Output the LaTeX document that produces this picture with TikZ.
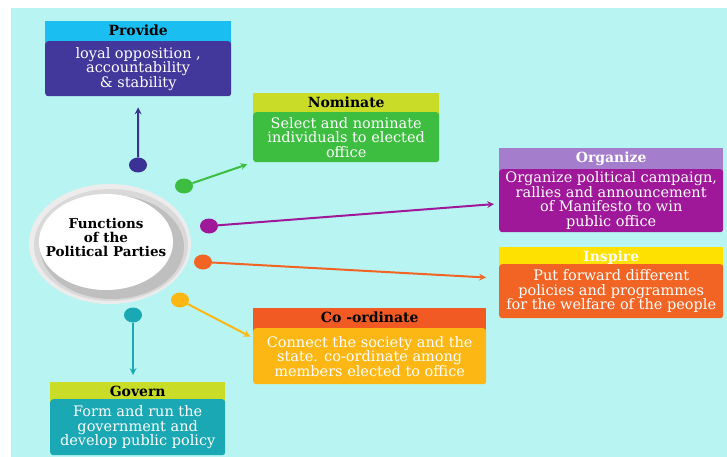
\documentclass[tikz,border=0pt]{standalone}
\usepackage{fontspec}
\setmainfont{DejaVu Serif}
\usetikzlibrary{shapes.geometric}
\tikzset{
  head-box/.style={
    rectangle, anchor=north west, inner sep=0pt,
    text height=14pt, text depth=12pt,
    font=\fontsize{14}{14}\selectfont\bfseries
  },
  body-box/.style={
    rectangle, anchor=north west, inner sep=0pt,
    rounded corners=3pt, text=white, align=center,
    font=\fontsize{14.5}{14.5}\selectfont
  },
  fn-dot/.style={ellipse, minimum width=18pt, minimum height=15pt, inner sep=0pt},
  link/.style={line width=2pt, -stealth},
  hub-text/.style={align=center, inner sep=0pt, font=\fontsize{13.5}{14}\selectfont\bfseries}
}
\definecolor{bgcyan}{RGB}{184,244,242}
\definecolor{provhead}{RGB}{26,190,240}
\definecolor{provbody}{RGB}{66,55,155}
\definecolor{provdot}{RGB}{60,50,150}
\definecolor{limehead}{RGB}{200,220,40}
\definecolor{nombody}{RGB}{61,190,64}
\definecolor{orghead}{RGB}{165,125,205}
\definecolor{orgbody}{RGB}{160,24,154}
\definecolor{insphead}{RGB}{255,225,0}
\definecolor{inspbody}{RGB}{242,100,36}
\definecolor{coordhead}{RGB}{241,90,34}
\definecolor{coordbody}{RGB}{253,183,20}
\definecolor{govbody}{RGB}{26,168,180}

\begin{document}
\begin{tikzpicture}[x=1pt,y=-1pt]
  \useasboundingbox (0,0) rectangle (727,457);
  \fill[white] (0,0) rectangle (727,457);
  \fill[bgcyan] (11,8) rectangle (727,457);

  % Hub with its grey rim
  \fill[gray!15] (110,244) ellipse [x radius=81pt, y radius=60pt];
  \fill[gray!30] (111,245) ellipse [x radius=77pt, y radius=56pt];
  \fill[gray!50] (112,247) ellipse [x radius=72pt, y radius=52pt];
  \fill[white] (106,242) ellipse [x radius=67pt, y radius=48pt];
  \node[hub-text] (hub) at (106,237) {Functions\\of the\\Political Parties};

  % Provide
  \node[head-box, fill=provhead, minimum width=186pt] (provide-head) at (45,21) {Provide};
  \node[body-box, fill=provbody, minimum width=186pt, minimum height=55pt] (provide-body) at (45,41)
    {loyal opposition ,\\accountability\\\& stability};

  % Nominate
  \node[head-box, fill=limehead, minimum width=186pt] (nominate-head) at (253,93) {Nominate};
  \node[body-box, fill=nombody, minimum width=186pt, minimum height=50pt] (nominate-body) at (253,112)
    {Select and nominate\\individuals to elected\\office};

  % Organize
  \node[head-box, fill=orghead, text=white, minimum width=224pt] (organize-head) at (499,148) {Organize};
  \node[body-box, fill=orgbody, minimum width=224pt, minimum height=63pt] (organize-body) at (499,169)
    {Organize political campaign,\\rallies and announcement\\of Manifesto to win\\public office};

  % Inspire
  \node[head-box, fill=insphead, text=white, minimum width=224pt] (inspire-head) at (499,247) {Inspire};
  \node[body-box, fill=inspbody, minimum width=224pt, minimum height=54pt] (inspire-body) at (499,264)
    {Put forward different\\policies and programmes\\for the welfare of the people};

  % Co-ordinate
  \node[head-box, fill=coordhead, minimum width=233pt] (coord-head) at (253,308) {Co -ordinate};
  \node[body-box, fill=coordbody, minimum width=233pt, minimum height=56pt] (coord-body) at (253,328)
    {Connect the society and the\\state. co-ordinate among\\members elected to office};

  % Govern
  \node[head-box, fill=limehead, minimum width=175pt] (govern-head) at (50,382) {Govern};
  \node[body-box, fill=govbody, minimum width=175pt, minimum height=56pt] (govern-body) at (50,399)
    {Form and run the\\government and\\develop public policy};

  % Dots round the hub
  \node[fn-dot, fill=provdot] (provide-dot) at (138,165) {};
  \node[fn-dot, fill=nombody] (nominate-dot) at (184,186) {};
  \node[fn-dot, fill=orgbody] (organize-dot) at (209,226) {};
  \node[fn-dot, fill=inspbody] (inspire-dot) at (203,262) {};
  \node[fn-dot, fill=coordbody] (coord-dot) at (180,300) {};
  \node[fn-dot, fill=govbody] (govern-dot) at (133,315) {};

  % Arrows
  \draw[link, provdot, shorten >=11pt] (provide-dot) -- (provide-body);
  \draw[link, nombody, shorten >=6pt] (nominate-dot) -- (nominate-body.south west);
  \draw[link, orgbody, shorten >=5pt] (organize-dot) -- ([yshift=-3pt]organize-body.west);
  \draw[link, inspbody, shorten >=13pt] (inspire-dot) -- ([yshift=13pt]inspire-body.west);
  \draw[link, coordbody, shorten >=3pt] (coord-dot) -- ([yshift=-10pt]coord-body.north west);
  \draw[link, govbody, shorten >=7pt] (govern-dot) -- (govern-dot |- govern-head.north);
\end{tikzpicture}
\end{document}
